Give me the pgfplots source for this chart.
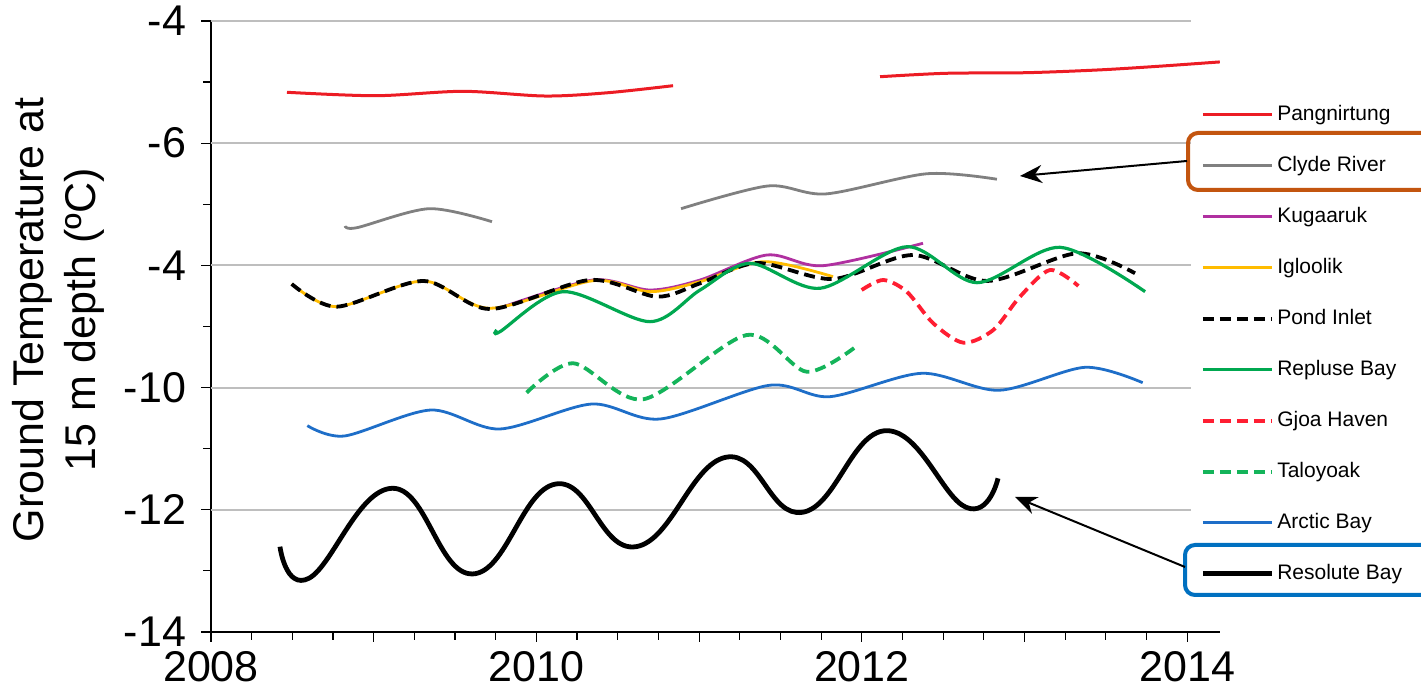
\documentclass[border=0pt]{standalone}
\usepackage{pgfplots}
\pgfplotsset{compat=1.18}
\usepackage{fontspec}
\setmainfont{Liberation Sans}
\usetikzlibrary{arrows.meta}

\definecolor{cPang}{RGB}{236,28,36}
\definecolor{cClyde}{RGB}{128,128,128}
\definecolor{cKug}{RGB}{176,48,160}
\definecolor{cIgl}{RGB}{255,188,0}
\definecolor{cRep}{RGB}{0,168,80}
\definecolor{cGjoa}{RGB}{255,30,50}
\definecolor{cTal}{RGB}{20,180,90}
\definecolor{cArc}{RGB}{30,110,200}
\definecolor{cGrid}{RGB}{190,190,190}
\definecolor{cBoxO}{RGB}{195,85,15}
\definecolor{cBoxB}{RGB}{0,112,192}

\begin{document}
\begin{tikzpicture}
\begin{axis}[
  at={(0,0)}, anchor=south west,
  scale only axis, width=504.4pt, height=305.5pt,
  xmin=2008, xmax=2014.2, ymin=-14, ymax=-4,
  axis lines*=left,
  axis line style={black, line width=0.8pt},
  clip=false,
  xtick={2008,2009,2010,2011,2012,2013,2014},
  xticklabels={2008,,2010,,2012,,2014},
  minor x tick num=3,
  ytick={-14,-12,-10,-8,-6,-4},
  yticklabels={-14,-12,-10,-4,-6,-4},
  minor y tick num=1,
  tick align=outside,
  major tick length=5pt, minor tick length=4pt,
  tick style={black, line width=0.6pt},
  ticklabel style={font=\fontsize{21.5}{24}\selectfont},
  yticklabel style={xshift=-4pt},
  xticklabel style={yshift=-1pt},
  ylabel={Ground Temperature at\\15 m depth (ºC)},
  ylabel style={at={(axis description cs:-0.1517,0.511)}, anchor=center, align=center,
    font=\fontsize{21.5}{26}\selectfont},
  legend image code/.code={\draw[#1] (0pt,0pt) -- (34.5pt,0pt);},
  legend cell align=left,
  legend style={at={(axis description cs:0.9745,0.879)}, anchor=north west,
    draw=none, fill=white, row sep=12pt, inner sep=3pt,
    font=\fontsize{10.5}{12}\selectfont,
    nodes={inner sep=1.5pt, text height=8pt, text depth=2.5pt}},
]
% horizontal grid lines
\draw[cGrid, line width=1pt] (axis cs:2008,-4) -- (axis cs:2014.02,-4);
\draw[cGrid, line width=1pt] (axis cs:2008,-6) -- (axis cs:2014.02,-6);
\draw[cGrid, line width=1pt] (axis cs:2008,-8) -- (axis cs:2014.02,-8);
\draw[cGrid, line width=1pt] (axis cs:2008,-10) -- (axis cs:2014.02,-10);
\draw[cGrid, line width=1pt] (axis cs:2008,-12) -- (axis cs:2014.02,-12);

% Pangnirtung
\addplot[cPang, line width=1.5pt, smooth] coordinates {
 (2008.467,-5.167) (2009.014,-5.223) (2009.549,-5.151) (2010.053,-5.228) (2010.440,-5.174) (2010.840,-5.059)};
\addlegendentry{Pangnirtung}
\addplot[cPang, line width=1.5pt, smooth, forget plot] coordinates {
 (2012.112,-4.912) (2012.518,-4.856) (2013.015,-4.846) (2013.464,-4.80) (2013.83,-4.74) (2014.2,-4.67)};
% Clyde River
\addplot[cClyde, line width=1.4pt, smooth] coordinates {
 (2008.824,-7.355) (2008.897,-7.383) (2009.340,-7.072) (2009.727,-7.285)};
\addlegendentry{Clyde River}
\addplot[cClyde, line width=1.4pt, smooth, forget plot] coordinates {
 (2010.889,-7.072) (2011.423,-6.70) (2011.78,-6.83) (2012.40,-6.50) (2012.83,-6.59)};
% Kugaaruk
\addplot[cKug, line width=1.4pt, smooth] coordinates {
 (2009.776,-8.697) (2010.348,-8.239) (2010.698,-8.403) (2011.006,-8.239) (2011.417,-7.830) (2011.761,-8.005) (2012.376,-7.638)};
\addlegendentry{Kugaaruk}
% Igloolik
\addplot[cIgl, line width=1.4pt, smooth] coordinates {
 (2008.496,-8.304) (2008.773,-8.676) (2009.305,-8.255) (2009.715,-8.702) (2010.350,-8.250) (2010.698,-8.430) (2011.006,-8.266) (2011.395,-7.939) (2011.823,-8.185)};
\addlegendentry{Igloolik}
% Pond Inlet
\addplot[black, line width=1.9pt, smooth, dash pattern=on 5.5pt off 3pt] coordinates {
 (2008.496,-8.304) (2008.773,-8.676) (2009.305,-8.255) (2009.715,-8.714) (2010.329,-8.239) (2010.741,-8.512) (2011.006,-8.293) (2011.356,-7.961) (2011.823,-8.223) (2012.315,-7.830) (2012.770,-8.255) (2013.323,-7.802) (2013.679,-8.129)};
\addlegendentry{Pond Inlet}
% Repulse Bay
\addplot[cRep, line width=1.6pt, smooth] coordinates {
 (2009.756,-9.057) (2009.776,-9.085) (2010.164,-8.430) (2010.698,-8.921) (2011.006,-8.403) (2011.313,-7.966) (2011.743,-8.375) (2012.278,-7.694) (2012.708,-8.283) (2013.218,-7.704) (2013.741,-8.430)};
\addlegendentry{Repluse Bay}
% Gjoa Haven
\addplot[cGjoa, line width=1.9pt, smooth, dash pattern=on 5.5pt off 3pt] coordinates {
 (2011.999,-8.403) (2012.132,-8.239) (2012.276,-8.430) (2012.439,-8.948) (2012.624,-9.265) (2012.808,-9.057) (2012.972,-8.512) (2013.157,-8.075) (2013.331,-8.337)};
\addlegendentry{Gjoa Haven}
% Taloyoak
\addplot[cTal, line width=1.9pt, smooth, dash pattern=on 5.5pt off 3pt] coordinates {
 (2009.940,-10.083) (2010.227,-9.602) (2010.657,-10.191) (2011.293,-9.139) (2011.661,-9.740) (2011.969,-9.319)};
\addlegendentry{Taloyoak}
% Arctic Bay
\addplot[cArc, line width=1.4pt, smooth] coordinates {
 (2008.592,-10.623) (2008.821,-10.792) (2009.350,-10.367) (2009.774,-10.678) (2010.339,-10.269) (2010.762,-10.514) (2011.432,-9.962) (2011.803,-10.149) (2012.368,-9.766) (2012.843,-10.044) (2013.372,-9.668) (2013.726,-9.920)};
\addlegendentry{Arctic Bay}
% Resolute Bay
\addplot[black, line width=2.4pt, smooth, tension=0.75] coordinates {
 (2008.424,-12.604) (2008.602,-13.121) (2009.114,-11.648) (2009.607,-13.050) (2010.119,-11.578) (2010.612,-12.604) (2011.163,-11.141) (2011.636,-12.041) (2012.148,-10.705) (2012.640,-11.959) (2012.837,-11.485)};
\addlegendentry{Resolute Bay}
\end{axis}

% annotation boxes and arrows
\draw[cBoxO, line width=2pt, rounded corners=5pt] (488.5pt,221pt) rectangle (615pt,249.5pt);
\draw[cBoxB, line width=2pt, rounded corners=5pt] (487pt,18.5pt) rectangle (615pt,43.5pt);
\draw[black, line width=1pt, -{Stealth[length=11pt,width=9pt]}] (488pt,235.5pt) -- (404.5pt,228pt);
\draw[black, line width=1pt, -{Stealth[length=11pt,width=9pt]}] (487pt,32.5pt) -- (402pt,67.5pt);

\pgfresetboundingbox
\useasboundingbox (-105.5pt,-33.5pt) rectangle (605pt,316pt);
\end{tikzpicture}
\end{document}
